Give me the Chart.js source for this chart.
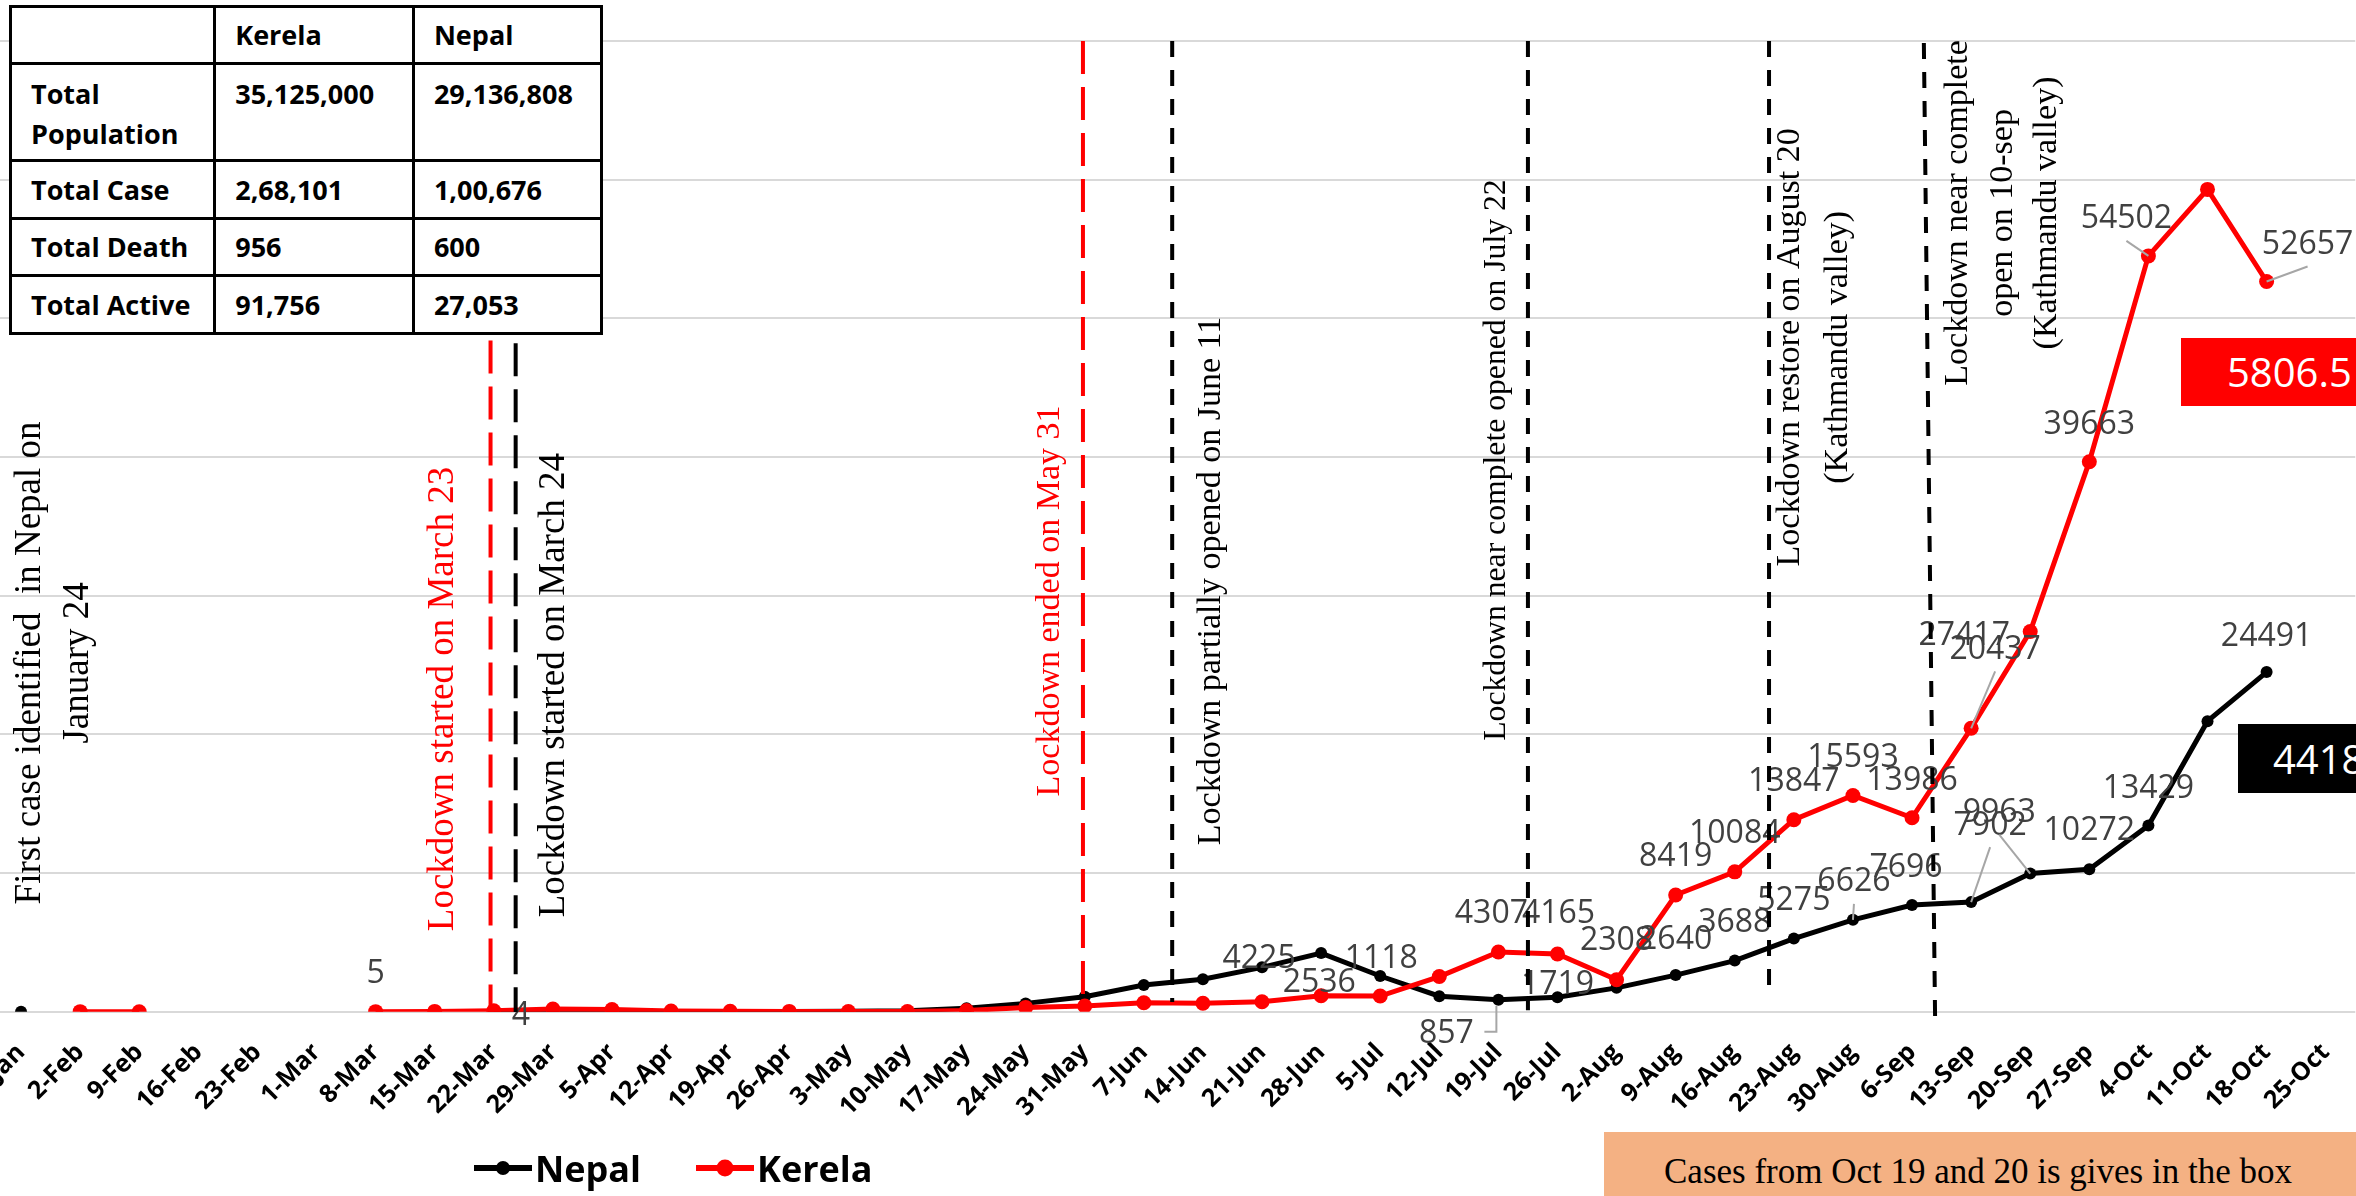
<!DOCTYPE html>
<html>
<head>
<meta charset="utf-8">
<script src="https://cdn.jsdelivr.net/npm/chart.js@4.4.0/dist/chart.umd.min.js"></script>
<style>
    html, body { margin: 0; padding: 0; width: 2356px; height: 1196px; overflow: hidden; background: #fff; }
    #wrap { position: absolute; left: -60px; top: 0; width: 2433px; height: 1196px; }
    table.info {
        position: absolute; left: 9px; top: 5px; width: 594px;
        border-collapse: collapse; background: #fff;
        font-family: 'Open Sans', sans-serif; font-weight: 700; font-size: 27px; color: #000;
    }
    table.info td { border: 3px solid #000; padding: 0 0 0 19px; line-height: 40px; vertical-align: middle; white-space: nowrap; }
    table.info tr.tall td { vertical-align: top; padding-top: 9px; }
    .box { position: absolute; color: #fff; font-family: 'Open Sans', sans-serif; font-size: 40px; white-space: nowrap; overflow: hidden; }
    #redBox { left: 2181px; top: 338px; width: 200px; height: 68px; line-height: 68px; padding-left: 46px; background: #ff0000; }
    #blackBox { left: 2238px; top: 724px; width: 200px; height: 69px; line-height: 69px; padding-left: 35px; background: #000; }
    #note {
        position: absolute; left: 1604px; top: 1132px; width: 800px; height: 70px;
        background: #f4b183; font-family: 'Liberation Serif', serif; font-size: 35px;
        line-height: 35px; padding-left: 60px; padding-top: 22px; box-sizing: border-box; color: #000;
    }
</style>
</head>
<body>
<div id="wrap"><canvas id="casesChart" width="2433" height="1196"></canvas></div>

<table class="info">
    <colgroup><col style="width:205px"><col style="width:200px"><col style="width:189px"></colgroup>
    <tr style="height:57px"><td></td><td>Kerela</td><td>Nepal</td></tr>
    <tr class="tall" style="height:97px"><td>Total<br>Population</td><td>35,125,000</td><td>29,136,808</td></tr>
    <tr style="height:58px"><td>Total Case</td><td>2,68,101</td><td>1,00,676</td></tr>
    <tr style="height:57px"><td>Total Death</td><td>956</td><td>600</td></tr>
    <tr style="height:58px"><td>Total Active</td><td>91,756</td><td>27,053</td></tr>
</table>

<div class="box" id="redBox">5806.5</div>
<div class="box" id="blackBox">4418</div>
<div id="note">Cases from Oct 19 and 20 is gives in the box</div>

<script>
// weekly new cases (week starting)
const weekLabels = ['26-Jan', '2-Feb', '9-Feb', '16-Feb', '23-Feb', '1-Mar', '8-Mar', '15-Mar', '22-Mar', '29-Mar',
    '5-Apr', '12-Apr', '19-Apr', '26-Apr', '3-May', '10-May', '17-May', '24-May', '31-May', '7-Jun',
    '14-Jun', '21-Jun', '28-Jun', '5-Jul', '12-Jul', '19-Jul', '26-Jul', '2-Aug', '9-Aug', '16-Aug',
    '23-Aug', '30-Aug', '6-Sep', '13-Sep', '20-Sep', '27-Sep', '4-Oct', '11-Oct', '18-Oct', '25-Oct'];

const nepalCases = [1, null, null, null, null, null, null, null, 4, 5,
    5, 5, 15, 20, 40, 60, 250, 600, 1080, 1925,
    2336, 3200, 4225, 2574, 1118, 857, 1040, 1719, 2640, 3688,
    5275, 6626, 7696, 7902, 9963, 10272, 13429, 20950, 24491, null];

const keralaCases = [null, 2, 1, null, null, null, 5, 20, 60, 190,
    160, 50, 30, 20, 15, 10, 80, 310, 410, 650,
    610, 720, 1150, 1130, 2536, 4307, 4165, 2308, 8419, 10084,
    13847, 15593, 13986, 20437, 27417, 39663, 54502, 59300, 52657, null];

const yMin = 0;
const yMax = 70000;
const yStep = 10000;

// lockdown events, as position on the week axis
const eventWeeks = [7.945, 8.37, 17.97, 19.48, 25.5, 29.58, 32.2];
const eventTexts = [
    ['Lockdown started on March 23'],
    ['Lockdown started on March 24'],
    ['Lockdown ended on May 31'],
    ['Lockdown partially opened on June 11'],
    ['Lockdown near complete opened on July 22'],
    ['Lockdown restore on August 20', '(Kathmandu valley)'],
    ['Lockdown near complete', 'open on 10-sep', '(Kathmandu valley)']
];
const firstCaseText = ['First case identified  in Nepal on', 'January 24'];

// drawing style of each event line (span in y units, text offset)
const eventStyle = [
    { color: '#ff0000', dash: [33, 13], top: 48400, bottom: 250, dx: -47, textY: 22550, lh: 46, size: 37 },
    { color: '#000000', dash: [33, 13], top: 48200, bottom: -30, dx: 39, textY: 23550, lh: 46, size: 37 },
    { color: '#ff0000', dash: [33, 13], top: 70000, bottom: 800, dx: -33, textY: 29620, lh: 46, size: 34 },
    { color: '#000000', dash: [16, 13], top: 70000, bottom: 700, dx: 39, textY: 31060, lh: 46, size: 34 },
    { color: '#000000', dash: [16, 13], top: 70000, bottom: 100, dx: -31, textY: 39780, lh: 46, size: 31.7 },
    { color: '#000000', dash: [16, 13], top: 70000, bottom: 1200, dx: 45, textY: 47910, lh: 48, size: 34 },
    { color: '#000000', dash: [16, 13], top: 69850, bottom: -380, dx: 79, textY: 57600, lh: 44.5, size: 34, tilt: 0.19 }
];

// data label placement: series, week index, offset from point
const labelSpots = [
    { s: 1, i: 6 }, { s: 0, i: 8, dx: 27, dy: 2 },
    { s: 0, i: 22, dx: -62, dy: 3 }, { s: 1, i: 24, dx: -120, dy: 3.5 },
    { s: 0, i: 24, dx: -58, dy: -40 }, { s: 0, i: 25, dx: -52, dy: 32, elbow: true },
    { s: 1, i: 25, dx: -7 }, { s: 1, i: 26, dx: 1, dy: -42 },
    { s: 0, i: 27, dx: -59, dy: -5 }, { s: 1, i: 27, dy: -41 },
    { s: 0, i: 28, dy: -38 }, { s: 1, i: 28 },
    { s: 0, i: 29 }, { s: 1, i: 29 },
    { s: 0, i: 30 }, { s: 1, i: 30 },
    { s: 0, i: 31, dx: 1, leader: true }, { s: 1, i: 31 },
    { s: 0, i: 32, dx: -6, dy: -39 }, { s: 1, i: 32, dy: -39 },
    { s: 0, i: 33, dx: 19, dy: -79, leader: true }, { s: 0, i: 34, dx: -31, dy: -63, leader: true },
    { s: 1, i: 33, dx: 24, dy: -81, leader: true }, { s: 1, i: 34, dx: -66, dy: 2 },
    { s: 0, i: 35, dy: -41 }, { s: 0, i: 36, dy: -39 }, { s: 0, i: 38, dy: -38 },
    { s: 1, i: 35, dy: -39 }, { s: 1, i: 36, dx: -22, dy: -39, leader: true },
    { s: 1, i: 38, dx: 41, dy: -39, leader: true }
];

const PAGE_SHIFT = 60; // canvas sits 60px left of the page

const dataLabels = {
    id: 'dataLabels',
    afterDatasetsDraw(chart) {
        const ctx = chart.ctx;
        ctx.save();
        ctx.font = '32px "Open Sans"';
        ctx.fillStyle = '#404040';
        ctx.textAlign = 'center';
        ctx.textBaseline = 'alphabetic';
        labelSpots.forEach(l => {
            const pt = chart.getDatasetMeta(l.s).data[l.i];
            const value = chart.data.datasets[l.s].data[l.i];
            const lx = pt.x + (l.dx || 0);
            const ly = pt.y + (l.dy === undefined ? -40 : l.dy);
            ctx.strokeStyle = '#a6a6a6';
            ctx.lineWidth = 2;
            if (l.leader) {
                ctx.beginPath();
                ctx.moveTo(lx, ly + 24);
                ctx.lineTo(pt.x, pt.y);
                ctx.stroke();
            }
            if (l.elbow) {
                ctx.beginPath();
                ctx.moveTo(lx + 38, ly);
                ctx.lineTo(pt.x - 2, ly);
                ctx.lineTo(pt.x - 2, pt.y + 6);
                ctx.stroke();
            }
            ctx.fillText(String(value), lx, ly + 11.5);
        });
        ctx.restore();
    }
};

function drawRotatedLines(ctx, lines, cx, cy, lh) {
    ctx.save();
    ctx.translate(cx, cy);
    ctx.rotate(-Math.PI / 2);
    lines.forEach((t, k) => {
        ctx.fillText(t, 0, (k - (lines.length - 1) / 2) * lh);
    });
    ctx.restore();
}

const eventMarks = {
    id: 'eventMarks',
    afterDraw(chart) {
        const ctx = chart.ctx;
        const xs = chart.scales.x, ys = chart.scales.y;
        ctx.save();
        ctx.textAlign = 'center';
        ctx.textBaseline = 'middle';
        eventWeeks.forEach((w, k) => {
            const st = eventStyle[k];
            const xTop = xs.getPixelForValue(w);
            const xBottom = xs.getPixelForValue(w + (st.tilt || 0));
            ctx.strokeStyle = st.color;
            ctx.lineWidth = 4;
            ctx.setLineDash(st.dash);
            ctx.beginPath();
            ctx.moveTo(xTop, ys.getPixelForValue(st.top));
            ctx.lineTo(xBottom, ys.getPixelForValue(st.bottom));
            ctx.stroke();
            ctx.fillStyle = st.color;
            ctx.font = st.size + 'px "Liberation Serif"';
            drawRotatedLines(ctx, eventTexts[k], xTop + st.dx, ys.getPixelForValue(st.textY), st.lh);
        });
        ctx.fillStyle = '#000';
        ctx.font = '37px "Liberation Serif"';
        drawRotatedLines(ctx, firstCaseText, xs.getPixelForValue(0) + 33, ys.getPixelForValue(25150), 48);
        ctx.restore();
    }
};

const bottomLegend = {
    id: 'bottomLegend',
    afterDraw(chart) {
        const ctx = chart.ctx;
        const y = 1168;
        const starts = [474, 696];
        ctx.save();
        ctx.font = 'bold 36px "Open Sans"';
        ctx.textBaseline = 'alphabetic';
        chart.data.datasets.forEach((ds, k) => {
            const x0 = starts[k] + PAGE_SHIFT;
            ctx.strokeStyle = ds.borderColor;
            ctx.lineWidth = 6;
            ctx.beginPath();
            ctx.moveTo(x0, y);
            ctx.lineTo(x0 + 58, y);
            ctx.stroke();
            ctx.fillStyle = ds.borderColor;
            ctx.beginPath();
            ctx.arc(x0 + 29, y, ds.pointRadius + 1, 0, Math.PI * 2);
            ctx.fill();
            ctx.fillStyle = '#000';
            ctx.fillText(ds.label, x0 + 61, 1182);
        });
        ctx.restore();
    }
};

new Chart(document.getElementById('casesChart'), {
    type: 'line',
    data: {
        labels: weekLabels,
        datasets: [
            {
                label: 'Nepal',
                data: nepalCases,
                borderColor: '#000000',
                backgroundColor: '#000000',
                borderWidth: 5,
                pointRadius: 6,
                pointBorderWidth: 0,
                tension: 0,
                order: 1
            },
            {
                label: 'Kerela',
                data: keralaCases,
                borderColor: '#ff0000',
                backgroundColor: '#ff0000',
                borderWidth: 5,
                pointRadius: 7.5,
                pointBorderWidth: 0,
                tension: 0,
                order: 0
            }
        ]
    },
    options: {
        responsive: false,
        animation: false,
        devicePixelRatio: 1,
        spanGaps: false,
        layout: { padding: { left: 51.5, right: 7.3, top: 41, bottom: 0 } },
        plugins: {
            legend: { display: false },
            tooltip: { enabled: false }
        },
        scales: {
            x: {
                offset: true,
                grid: { display: false, drawTicks: false },
                border: { display: false },
                ticks: {
                    autoSkip: false,
                    minRotation: 45,
                    maxRotation: 45,
                    padding: 26,
                    color: '#000',
                    font: { family: 'Open Sans', size: 25, weight: 'bold' }
                },
                afterFit(scale) { scale.height = 184.3; }
            },
            y: {
                min: yMin,
                max: yMax,
                ticks: { display: false, stepSize: yStep },
                grid: { color: '#d9d9d9', lineWidth: 2, drawTicks: false },
                border: { display: false }
            }
        }
    },
    plugins: [dataLabels, eventMarks, bottomLegend]
});
</script>
</body>
</html>
